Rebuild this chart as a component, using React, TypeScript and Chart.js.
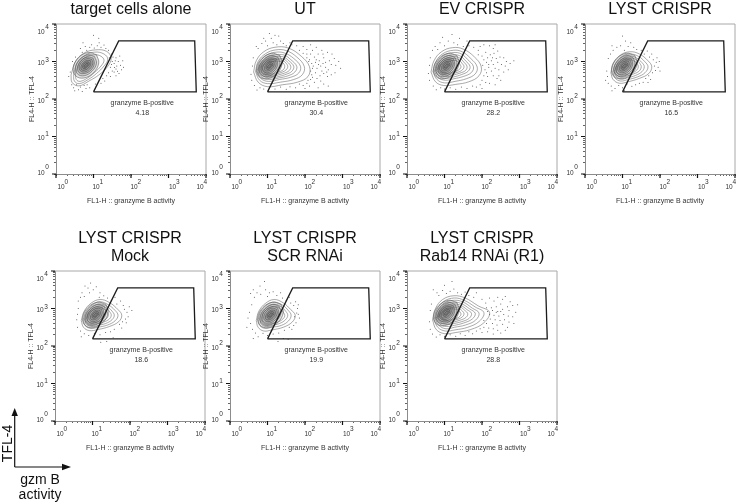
import React, { useEffect, useRef } from "react";
import { Chart, registerables } from "chart.js";

Chart.register(...registerables);

const FONT = '"Liberation Sans", Arial, sans-serif';

// Panel titles and the gated percentage of each panel
const titles: (string | string[])[] = [
  "target cells alone", "UT", "EV CRISPR", "LYST CRISPR",
  ["LYST CRISPR", "Mock"], ["LYST CRISPR", "SCR RNAi"], ["LYST CRISPR", "Rab14 RNAi (R1)"],
];
const gatePercent = ["4.18", "30.4", "28.2", "16.5", "18.6", "19.9", "28.8"];
const gateName = "granzyme B-positive";
const xAxisTitle = "FL1-H :: granzyme B activity";
const yAxisTitle = "FL4-H :: TFL-4";

// Log axis ticks
const tickValues = [
  1, 2, 3, 4, 5, 6, 7, 8, 9,
  10, 20, 30, 40, 50, 60, 70, 80, 90,
  100, 200, 300, 400, 500, 600, 700, 800, 900,
  1000, 2000, 3000, 4000, 5000, 6000, 7000, 8000, 9000, 10000,
];
const decades = [1, 10, 100, 1000, 10000];
const exponents = ["0", "1", "2", "3", "4"];

// Polygon gate, in channel values
const gateX = [10, 47, 5000, 5500, 10];
const gateY = [155, 3550, 3550, 155, 155];
const gateLabelAt = { x: 200, y: 78, y2: 43 };

const coreA = [
  [1.33,3.16,1.11,3.22,.85,3.08,.71,2.82,.77,2.60,.99,2.54,1.25,2.68,1.39,2.94],
  [1.28,3.11,1.10,3.16,.89,3.04,.77,2.83,.82,2.65,1.00,2.60,1.21,2.72,1.33,2.93],
  [1.24,3.07,1.09,3.10,.92,3.01,.83,2.84,.86,2.69,1.01,2.66,1.18,2.75,1.27,2.92],
  [1.21,3.03,1.09,3.06,.95,2.98,.87,2.84,.90,2.73,1.01,2.70,1.15,2.78,1.23,2.92],
  [1.17,3.00,1.08,3.01,.98,2.95,.92,2.85,.93,2.76,1.02,2.75,1.12,2.81,1.18,2.91],
  [1.13,2.96,1.08,2.97,1.00,2.93,.96,2.85,.97,2.80,1.02,2.79,1.09,2.84,1.14,2.91],
  [1.10,2.93,1.07,2.93,1.03,2.90,1.00,2.86,1.00,2.83,1.03,2.83,1.07,2.86,1.10,2.90],
];
const coreB = [
  [1.36,3.11,1.14,3.17,.88,3.03,.74,2.77,.80,2.55,1.02,2.49,1.28,2.63,1.42,2.89],
  [1.31,3.06,1.13,3.11,.92,2.99,.80,2.78,.85,2.60,1.03,2.55,1.24,2.67,1.36,2.88],
  [1.27,3.02,1.12,3.05,.95,2.96,.86,2.79,.89,2.64,1.04,2.61,1.21,2.70,1.30,2.87],
  [1.24,2.98,1.12,3.01,.98,2.93,.90,2.79,.93,2.68,1.04,2.65,1.18,2.73,1.26,2.87],
  [1.20,2.95,1.11,2.96,1.01,2.90,.95,2.80,.96,2.71,1.05,2.70,1.15,2.76,1.21,2.86],
  [1.16,2.91,1.11,2.92,1.03,2.88,.99,2.80,1.00,2.75,1.05,2.74,1.12,2.79,1.17,2.86],
  [1.13,2.88,1.10,2.88,1.06,2.85,1.03,2.81,1.03,2.78,1.06,2.78,1.10,2.81,1.13,2.85],
];
const coreC = [
  [1.08,3.18,.86,3.24,.60,3.10,.46,2.84,.52,2.62,.74,2.56,1.00,2.70,1.14,2.96],
  [1.03,3.13,.85,3.18,.64,3.06,.52,2.85,.57,2.67,.75,2.62,.96,2.74,1.08,2.95],
  [.99,3.09,.84,3.12,.67,3.03,.58,2.86,.61,2.71,.76,2.68,.93,2.77,1.02,2.94],
  [.96,3.05,.84,3.08,.70,3.00,.62,2.86,.65,2.75,.76,2.72,.90,2.80,.98,2.94],
  [.92,3.02,.83,3.03,.73,2.97,.67,2.87,.68,2.78,.77,2.77,.87,2.83,.93,2.93],
  [.88,2.98,.83,2.99,.75,2.95,.71,2.87,.72,2.82,.77,2.81,.84,2.86,.89,2.93],
  [.85,2.95,.82,2.95,.78,2.92,.75,2.88,.75,2.85,.78,2.85,.82,2.88,.85,2.92],
];

const contours1 = [
  [.40,2.64,.52,3.0,.74,3.22,1.05,3.31,1.35,3.27,1.47,3.09,1.38,2.87,1.14,2.64,.88,2.48,.61,2.35,.43,2.44],
  [.47,2.66,.57,2.97,.77,3.16,1.03,3.25,1.28,3.2,1.38,3.06,1.28,2.88,1.08,2.68,.86,2.52,.62,2.41,.49,2.48],
  [.52,2.68,.62,2.95,.80,3.12,1.02,3.18,1.2,3.14,1.28,3.03,1.2,2.88,1.02,2.7,.84,2.56,.64,2.47,.54,2.52],
  ...coreC,
];
const contours2 = [
  [.63,2.72,.70,3.02,.90,3.26,1.2,3.38,1.55,3.36,1.9,3.14,2.12,2.86,2.08,2.6,1.8,2.45,1.4,2.38,1.0,2.33,.75,2.45],
  [.68,2.73,.75,3.0,.95,3.21,1.22,3.31,1.5,3.29,1.78,3.12,1.98,2.87,1.93,2.65,1.7,2.52,1.35,2.45,1.0,2.41,.79,2.5],
  [.72,2.74,.8,2.99,.98,3.17,1.24,3.25,1.47,3.22,1.7,3.08,1.88,2.87,1.83,2.69,1.62,2.58,1.32,2.52,1.02,2.47,.82,2.55],
  [1.28,3.19,1.45,3.17,1.62,3.05,1.78,2.87,1.73,2.72,1.55,2.62,1.3,2.56,1.05,2.52,.85,2.58,.75,2.74,.84,2.98,1.02,3.14],
  [1.3,3.14,1.43,3.12,1.57,3.02,1.70,2.87,1.65,2.74,1.5,2.66,1.3,2.6,1.08,2.56,.88,2.62,.78,2.76,.86,2.97,1.05,3.11],
  [1.3,3.09,1.42,3.07,1.53,2.99,1.62,2.87,1.58,2.76,1.45,2.69,1.28,2.64,1.1,2.6,.9,2.65,.8,2.76,.88,2.96,1.08,3.07],
  [1.28,3.05,1.4,3.03,1.49,2.96,1.54,2.87,1.5,2.78,1.4,2.72,1.25,2.67,1.1,2.63,.93,2.67,.83,2.78,.9,2.94,1.1,3.04],
  [1.28,3.01,1.38,2.99,1.44,2.93,1.46,2.86,1.43,2.79,1.35,2.74,1.2,2.69,1.08,2.66,.95,2.7,.86,2.8,.93,2.93,1.12,3.0],
  ...coreA,
];
const contours3 = [
  [.64,2.72,.72,3.02,.92,3.26,1.22,3.37,1.5,3.33,1.8,3.12,1.98,2.86,1.92,2.62,1.65,2.46,1.3,2.39,.98,2.36,.76,2.46],
  [.69,2.73,.77,3.0,.96,3.21,1.24,3.3,1.47,3.26,1.7,3.08,1.87,2.86,1.82,2.67,1.58,2.54,1.28,2.47,1.0,2.43,.8,2.52],
  [.73,2.74,.81,2.99,1.0,3.17,1.25,3.24,1.45,3.2,1.62,3.05,1.77,2.87,1.72,2.71,1.5,2.6,1.25,2.54,1.02,2.5,.83,2.57],
  [.76,2.75,.85,2.98,1.03,3.13,1.27,3.18,1.43,3.14,1.56,3.02,1.68,2.87,1.63,2.74,1.45,2.65,1.25,2.59,1.05,2.55,.86,2.6],
  [.79,2.76,.88,2.96,1.06,3.09,1.27,3.13,1.41,3.09,1.51,2.99,1.6,2.87,1.56,2.76,1.41,2.69,1.24,2.64,1.08,2.6,.9,2.65],
  [.82,2.77,.9,2.94,1.09,3.05,1.27,3.08,1.39,3.04,1.46,2.96,1.52,2.87,1.48,2.78,1.37,2.72,1.22,2.68,1.08,2.64,.93,2.68],
  [.85,2.8,.93,2.93,1.11,3.01,1.27,3.03,1.36,3.0,1.41,2.93,1.44,2.86,1.41,2.8,1.33,2.75,1.2,2.71,1.07,2.68,.95,2.71],
  ...coreA,
];
const contours4 = [
  [.69,2.7,.76,2.96,.94,3.17,1.2,3.26,1.45,3.2,1.68,3.02,1.78,2.86,1.7,2.68,1.45,2.55,1.15,2.46,.92,2.42,.75,2.52],
  [.74,2.72,.82,2.95,.98,3.13,1.2,3.2,1.42,3.14,1.6,2.99,1.68,2.86,1.6,2.7,1.4,2.59,1.15,2.52,.95,2.48,.8,2.56],
  [.78,2.73,.86,2.94,1.02,3.09,1.2,3.15,1.38,3.09,1.52,2.97,1.58,2.86,1.52,2.73,1.35,2.63,1.15,2.57,.98,2.53,.83,2.6],
  [1.22,3.1,1.36,3.05,1.46,2.95,1.5,2.86,1.45,2.75,1.3,2.67,1.13,2.62,.98,2.58,.85,2.64,.8,2.74,.88,2.93,1.05,3.06],
  [1.22,3.05,1.33,3.0,1.4,2.93,1.42,2.85,1.38,2.77,1.27,2.7,1.12,2.66,.98,2.63,.88,2.67,.84,2.76,.91,2.92,1.07,3.02],
  ...coreA,
];
const contours5 = [
  [.7,2.68,.78,2.93,.96,3.14,1.2,3.24,1.45,3.16,1.68,2.97,1.78,2.82,1.7,2.65,1.45,2.52,1.15,2.44,.92,2.41,.76,2.5],
  [.75,2.69,.83,2.92,1.0,3.1,1.2,3.18,1.42,3.1,1.6,2.95,1.68,2.82,1.6,2.67,1.4,2.56,1.15,2.5,.96,2.47,.81,2.54],
  [.79,2.7,.87,2.91,1.03,3.06,1.2,3.12,1.38,3.06,1.52,2.93,1.58,2.82,1.52,2.7,1.35,2.6,1.15,2.55,.99,2.52,.84,2.58],
  [.82,2.71,.9,2.9,1.06,3.03,1.22,3.07,1.36,3.02,1.46,2.91,1.5,2.82,1.45,2.72,1.3,2.64,1.13,2.6,.99,2.57,.86,2.62],
  [.85,2.73,.92,2.89,1.08,2.99,1.22,3.02,1.33,2.97,1.4,2.89,1.42,2.81,1.38,2.74,1.27,2.67,1.12,2.64,.99,2.61,.89,2.65],
  ...coreB,
];
const contours6 = [
  [.7,2.68,.77,2.93,.95,3.14,1.18,3.24,1.42,3.15,1.62,2.97,1.74,2.82,1.66,2.64,1.42,2.5,1.12,2.43,.9,2.4,.75,2.5],
  [.75,2.7,.82,2.92,.99,3.1,1.18,3.17,1.4,3.09,1.56,2.94,1.63,2.82,1.56,2.67,1.37,2.55,1.12,2.5,.94,2.47,.8,2.54],
  [.79,2.71,.87,2.91,1.03,3.06,1.2,3.11,1.36,3.05,1.49,2.92,1.54,2.82,1.48,2.7,1.32,2.6,1.13,2.55,.97,2.52,.84,2.58],
  [.83,2.72,.9,2.9,1.06,3.02,1.2,3.06,1.33,3.0,1.42,2.9,1.46,2.81,1.41,2.72,1.28,2.64,1.11,2.6,.98,2.57,.87,2.63],
  ...coreB,
];
const contours7 = [
  [.68,2.7,.76,3.0,.95,3.24,1.25,3.34,1.55,3.28,1.9,3.07,2.2,2.9,2.05,2.62,1.7,2.44,1.3,2.36,1.0,2.33,.78,2.44],
  [.72,2.71,.8,2.98,.98,3.19,1.26,3.28,1.52,3.22,1.82,3.04,2.05,2.89,1.93,2.66,1.62,2.5,1.28,2.43,1.02,2.4,.82,2.5],
  [.75,2.72,.84,2.97,1.0,3.15,1.27,3.22,1.5,3.17,1.74,3.01,1.92,2.88,1.83,2.69,1.56,2.56,1.27,2.5,1.04,2.46,.85,2.55],
  [.78,2.73,.87,2.95,1.03,3.11,1.27,3.17,1.47,3.12,1.67,2.99,1.82,2.87,1.74,2.72,1.5,2.61,1.26,2.55,1.05,2.52,.87,2.59],
  [.8,2.75,.89,2.94,1.05,3.07,1.27,3.12,1.44,3.08,1.6,2.97,1.72,2.87,1.66,2.74,1.46,2.65,1.25,2.6,1.07,2.57,.9,2.63],
  [.83,2.76,.91,2.93,1.07,3.04,1.27,3.07,1.42,3.04,1.54,2.95,1.62,2.86,1.57,2.76,1.42,2.69,1.24,2.64,1.08,2.61,.92,2.66],
  [.85,2.78,.93,2.92,1.09,3.01,1.27,3.03,1.39,3.0,1.48,2.93,1.52,2.86,1.48,2.78,1.37,2.72,1.22,2.68,1.09,2.65,.94,2.7],
  [.88,2.8,.95,2.91,1.11,2.98,1.26,2.99,1.36,2.96,1.42,2.9,1.44,2.85,1.41,2.79,1.33,2.74,1.2,2.71,1.08,2.68,.96,2.72],
  ...coreA,
];

const events1 = [
  .65,3.35,.7,3.25,.78,3.4,.72,3.5,.82,3.3,.9,3.38,.95,3.45,1.02,3.36,1.1,3.42,1.15,3.5,1.2,3.38,1.28,3.44,1.33,3.35,1.0,3.7,1.14,3.62,
  1.42,3.1,1.48,3.2,1.5,3.0,1.55,2.95,1.6,3.1,1.62,2.88,1.66,3.0,1.7,3.15,1.72,2.9,1.75,2.78,1.6,2.8,1.55,2.72,1.68,2.68,1.78,3.02,1.8,2.85,
  1.45,2.85,1.5,2.75,1.4,2.7,1.35,2.62,1.25,2.55,1.3,2.48,1.45,2.6,1.6,2.62,1.2,2.42,1.52,3.12,1.4,3.3,1.58,3.02,1.64,2.74,1.48,2.92,1.56,2.84,
  .47,2.3,.5,2.22,.55,2.38,.6,2.25,.65,2.32,.7,2.2,.75,2.36,.8,2.28,.83,2.38,.42,2.38,.9,2.3,.38,2.72,.34,2.6,.44,3.0,.52,3.12,1.05,2.4,
];
const events2 = [
  1.05,3.75,1.1,3.62,1.2,3.7,.95,3.55,1.0,3.42,.85,3.48,1.15,3.5,1.25,3.45,1.35,3.55,1.3,3.68,1.42,3.48,1.5,3.42,1.6,3.5,.75,3.35,.7,3.4,.9,3.62,
  1.65,3.45,1.78,3.42,1.95,3.4,2.05,3.32,2.15,3.45,2.2,3.3,2.3,3.38,2.35,3.2,2.45,3.3,2.25,3.12,2.15,3.2,2.05,3.1,2.38,3.02,2.5,3.1,2.55,2.98,2.65,3.02,
  2.28,2.98,2.18,2.95,2.42,2.88,2.55,2.85,2.7,2.92,2.82,2.9,2.9,3.0,2.78,3.08,2.62,2.78,2.45,2.75,2.32,2.82,2.2,2.82,2.28,2.7,2.4,2.62,2.5,2.68,2.6,2.6,
  2.7,2.65,2.18,2.65,2.32,2.55,2.42,2.48,2.15,2.52,2.25,2.45,2.05,2.42,2.12,2.35,1.95,2.36,1.85,2.4,1.75,2.3,1.6,2.33,1.5,2.26,1.35,2.32,1.2,2.27,1.05,2.3,
  .9,2.27,.8,2.3,.72,2.24,.65,2.36,.58,2.5,.56,2.66,.6,2.88,.62,3.1,2.35,2.3,2.5,2.4,2.62,2.35,2.0,2.28,2.8,2.7,2.95,2.82,2.72,3.2,2.48,3.2,2.6,3.25,2.1,3.0,
  2.22,2.88,2.15,2.75,2.36,2.92,2.48,2.95,2.58,2.72,2.2,2.58,2.3,3.05,1.95,3.22,2.05,3.2,1.85,3.3,2.12,3.05,2.08,2.5,
];
const events3 = [
  .95,3.65,.88,3.5,1.0,3.42,1.1,3.55,1.2,3.72,1.25,3.5,1.35,3.45,1.4,3.62,1.5,3.4,1.6,3.55,.75,3.4,.68,3.3,.82,3.32,1.65,3.42,1.78,3.38,1.9,3.3,
  1.95,3.4,2.05,3.45,2.2,3.42,2.3,3.35,2.35,3.45,2.1,3.25,2.22,3.18,2.32,3.22,2.42,3.28,2.15,3.1,2.05,3.05,2.25,3.02,2.38,3.08,2.48,3.12,2.58,3.1,2.65,3.0,
  2.12,2.98,2.3,2.92,2.42,2.98,2.52,2.92,2.62,2.88,2.75,2.95,2.85,3.02,2.35,2.82,2.18,2.85,2.08,2.78,2.25,2.75,2.45,2.78,2.58,2.72,2.05,2.62,2.15,2.6,2.3,2.62,
  2.4,2.55,2.0,2.5,2.1,2.44,2.2,2.42,2.35,2.38,1.95,2.38,1.85,2.32,1.75,2.35,1.6,2.28,1.45,2.32,1.3,2.26,1.15,2.3,1.0,2.27,.9,2.3,.78,2.25,.7,2.35,
  .6,2.5,.57,2.68,.6,2.9,.62,3.1,2.0,2.28,2.5,2.5,2.7,2.78,2.18,2.92,2.28,3.1,2.12,2.7,2.02,2.9,1.9,3.18,2.0,3.15,2.45,2.62,
];
const events4 = [
  1.0,3.68,1.08,3.55,.95,3.42,.85,3.38,1.15,3.4,1.22,3.5,1.3,3.38,1.05,3.3,.75,3.3,.68,3.2,.62,3.08,.72,3.42,1.38,3.32,1.5,3.3,1.58,3.2,1.66,3.28,
  1.72,3.12,1.78,3.2,1.82,3.05,1.9,2.98,1.85,2.88,1.95,2.85,1.88,2.76,1.8,2.7,1.7,2.62,1.62,2.55,1.75,2.52,1.55,2.45,1.45,2.42,1.35,2.38,1.25,2.34,1.12,2.4,
  1.0,2.3,.9,2.36,.8,2.28,.7,2.35,.62,2.42,.55,2.5,.6,2.6,.58,2.75,1.98,3.0,2.0,2.75,1.68,2.44,1.92,3.1,1.05,2.22,.72,2.22,
];
const events5 = [
  .95,3.68,.88,3.55,.8,3.6,.92,3.42,1.02,3.5,1.1,3.58,.72,3.42,.68,3.3,.78,3.32,.62,3.2,1.2,3.42,1.3,3.34,1.18,3.3,1.4,3.28,1.5,3.22,1.6,3.3,
  1.65,3.12,1.75,3.2,1.82,3.08,1.85,2.98,1.92,2.9,1.95,2.78,1.88,2.72,1.8,2.65,1.72,2.58,1.78,2.48,1.58,2.45,1.48,2.38,1.35,2.36,1.2,2.3,1.05,2.34,.9,2.28,
  .78,2.33,.68,2.4,.6,2.5,.58,2.7,.6,2.85,1.38,2.12,1.55,2.22,1.22,2.1,2.05,2.95,1.98,3.05,.62,3.0,.7,2.25,1.9,2.62,
];
const events6 = [
  .92,3.72,.8,3.6,.62,3.5,.55,3.4,.72,3.42,.65,3.3,.82,3.38,.95,3.5,1.05,3.42,1.0,3.32,1.15,3.45,1.25,3.35,1.35,3.42,1.4,3.28,1.5,3.22,1.58,3.3,
  1.62,3.15,1.7,3.08,1.75,3.18,1.8,3.0,1.78,2.88,1.72,2.78,1.85,2.75,1.76,2.62,1.7,2.55,1.58,2.5,1.65,2.45,1.45,2.42,1.3,2.35,1.15,2.32,1.0,2.28,.88,2.34,
  .75,2.25,.68,2.35,.6,2.45,.55,2.6,.48,2.75,.52,2.9,.58,3.1,.45,2.5,1.42,2.2,1.55,2.18,1.28,2.12,.62,2.2,1.82,2.85,1.82,3.1,
];
const events7 = [
  1.2,3.72,1.0,3.62,.95,3.48,.8,3.42,.7,3.5,.85,3.35,1.05,3.4,1.15,3.46,1.25,3.52,1.35,3.42,1.45,3.38,1.55,3.44,1.65,3.35,1.78,3.3,1.85,3.42,2.0,3.25,
  2.1,3.15,2.2,3.28,2.32,3.2,2.42,3.3,2.55,3.25,2.62,3.32,2.75,3.18,2.68,3.05,2.5,3.12,2.38,3.05,2.25,3.02,2.12,3.02,2.28,2.95,2.42,2.92,2.55,2.98,2.72,2.95,
  2.82,3.08,2.95,3.1,2.9,2.9,2.2,2.85,2.32,2.82,2.45,2.8,2.58,2.84,2.7,2.8,2.82,2.78,2.22,2.72,2.35,2.7,2.48,2.68,2.6,2.7,2.72,2.64,2.05,2.68,2.12,2.6,
  2.28,2.6,2.4,2.56,2.55,2.58,2.68,2.5,2.05,2.5,2.18,2.48,2.3,2.46,2.42,2.42,1.95,2.46,1.85,2.4,2.0,2.36,2.15,2.38,2.3,2.32,1.75,2.33,1.65,2.38,1.55,2.28,
  1.42,2.33,1.3,2.26,1.15,2.3,1.0,2.26,.88,2.3,.78,2.24,.68,2.32,.62,2.45,.6,2.65,.62,2.95,.65,3.12,2.5,2.35,2.85,2.6,2.38,2.9,2.5,2.92,2.15,2.92,2.62,2.42,
];

const contoursByPanel = [contours1, contours2, contours3, contours4, contours5, contours6, contours7];
const eventsByPanel = [events1, events2, events3, events4, events5, events6, events7];
const CORE_COUNT = coreA.length;

// Layout of the seven panels: left and top of each plot frame on the page
const panelLeft = [56, 230, 407, 585, 55, 230, 407];
const panelTop = [24, 24, 24, 24, 271, 271, 271];
const PLOT = 150, AXIS_W = 36, AXIS_H = 34;

// Tick label nudges (the reference packs its labels inward)
const xLabelNudge = [5, 2.5, 3, 4, -6];
const yLabelNudge = [[-1, -6.4], [1.6, -2.4], [2.4, -2.6], [2, -1], [8.3, 3.3]];

function toPoints(flat: number[]) {
  const out: { x: number; y: number }[] = [];
  for (let i = 0; i + 1 < flat.length; i += 2) out.push({ x: 10 ** flat[i], y: 10 ** flat[i + 1] });
  return out;
}

const panelPlugin = (percent: string) => ({
  id: "panelText",
  beforeDatasetsDraw(chart: any) {
    const { ctx, chartArea: a } = chart;
    ctx.save();
    ctx.strokeStyle = "#a8a8a8";
    ctx.lineWidth = 1;
    ctx.beginPath();
    ctx.moveTo(a.left, a.top);
    ctx.lineTo(a.right, a.top);
    ctx.lineTo(a.right, a.bottom);
    ctx.stroke();
    ctx.restore();
  },
  afterDraw(chart: any) {
    const { ctx, chartArea: a, scales } = chart;
    const { x, y } = scales;
    ctx.save();
    // longer marks on the decades
    ctx.strokeStyle = "#111";
    ctx.lineWidth = 1.2;
    ctx.beginPath();
    decades.forEach((v) => {
      const px = x.getPixelForValue(v);
      const py = y.getPixelForValue(v);
      ctx.moveTo(px, a.bottom);
      ctx.lineTo(px, a.bottom + 4);
      ctx.moveTo(a.left, py);
      ctx.lineTo(a.left - 4, py);
    });
    ctx.stroke();
    // decade labels
    ctx.fillStyle = "#333";
    ctx.font = `6.5px ${FONT}`;
    ctx.textAlign = "center";
    ctx.textBaseline = "middle";
    decades.forEach((v, i) => {
      const px = x.getPixelForValue(v) + xLabelNudge[i];
      ctx.fillText("10", px, a.bottom + 13);
      ctx.fillText(exponents[i], px + 5.3, a.bottom + 8);
      const py = y.getPixelForValue(v);
      ctx.fillText("10", a.left - 15, py + yLabelNudge[i][0]);
      ctx.fillText(exponents[i], a.left - 9, py + yLabelNudge[i][1]);
    });
    // gate label
    ctx.font = `7px ${FONT}`;
    const gx = x.getPixelForValue(gateLabelAt.x);
    ctx.fillText(gateName, gx, y.getPixelForValue(gateLabelAt.y));
    ctx.fillText(percent, gx, y.getPixelForValue(gateLabelAt.y2));
    ctx.restore();
  },
});

function Panel({ index }: { index: number }) {
  const ref = useRef<HTMLCanvasElement>(null);
  const canvasTop = index < 4 ? 0 : 229;
  const top = panelTop[index];
  const width = AXIS_W * 2 + PLOT;
  const height = top - canvasTop + PLOT + AXIS_H;
  const lineCount = index < 4 ? 1 : 2;

  useEffect(() => {
    const logScale = (title: string, fit: (s: any) => void, padding: any) => ({
      type: "logarithmic" as const,
      min: 1,
      max: 10000,
      afterBuildTicks(s: any) {
        s.ticks = tickValues.map((v) => ({ value: v, major: decades.includes(v) }));
      },
      afterFit: fit,
      ticks: { display: false, autoSkip: false },
      grid: {
        display: true,
        drawOnChartArea: false,
        drawTicks: true,
        tickLength: 2,
        tickColor: "#222",
        tickWidth: 0.7,
      },
      border: { display: true, color: "#8c8c8c", width: 1 },
      title: { display: true, text: title, color: "#333", font: { family: FONT, size: 7, lineHeight: 1.2 }, padding },
    });

    const contours = contoursByPanel[index];
    const chart = new Chart(ref.current!, {
      type: "scatter",
      data: {
        datasets: [
          {
            label: "gate",
            data: gateX.map((x, i) => ({ x, y: gateY[i] })),
            showLine: true,
            pointRadius: 0,
            borderColor: "#1c1c1c",
            borderWidth: 1.3,
            tension: 0,
          },
          ...contours.map((c, i) => {
            const pts = toPoints(c);
            const isCore = i >= contours.length - CORE_COUNT;
            return {
              label: `contour ${i + 1}`,
              data: [...pts, pts[0]],
              showLine: true,
              pointRadius: 0,
              borderColor: isCore ? "#444" : "#555",
              borderWidth: 0.5,
              tension: 0.4,
              fill: isCore ? "shape" : false,
              backgroundColor: "rgba(50,50,50,0.13)",
            };
          }),
          {
            label: "events",
            data: toPoints(eventsByPanel[index]),
            showLine: false,
            pointRadius: 0.5,
            pointBorderWidth: 0,
            pointBackgroundColor: "#444",
          },
        ],
      },
      options: {
        animation: false,
        responsive: false,
        layout: { padding: 0 },
        plugins: {
          legend: { display: false },
          tooltip: { enabled: false },
          title: {
            display: true,
            text: titles[index] as any,
            color: "#111",
            font: { family: FONT, size: 16, weight: "normal", lineHeight: 1.15 },
            padding: { top: 0, bottom: top - canvasTop - lineCount * 18.4 },
          },
        },
        scales: {
          x: logScale(xAxisTitle, (s) => { s.height = AXIS_H; }, { top: 0, bottom: 3.2 }),
          y: logScale(yAxisTitle, (s) => { s.width = AXIS_W; }, { top: 8.2, bottom: 0 }),
          // empty right-hand axis: keeps the title centred over the plot frame
          spacer: {
            type: "linear",
            position: "right",
            grid: { display: false },
            border: { display: false },
            ticks: { display: false },
            afterFit: (s: any) => { s.width = AXIS_W; },
          },
        },
      } as any,
      plugins: [panelPlugin(gatePercent[index])],
    });
    return () => chart.destroy();
  }, [index]);

  return (
    <canvas
      ref={ref}
      width={width}
      height={height}
      style={{ position: "absolute", left: panelLeft[index] - AXIS_W, top: canvasTop, width, height }}
    />
  );
}

export default function App() {
  const ink = "#111";
  return (
    <div style={{ position: "fixed", left: 0, top: 0, width: 738, height: 504, overflow: "hidden", background: "#fff" }}>
      {titles.map((_, i) => <Panel key={i} index={i} />)}
      <svg width={90} height={104} viewBox="0 400 90 104" style={{ position: "absolute", left: 0, top: 400 }}>
        <line x1={14.7} y1={467} x2={14.7} y2={414} stroke={ink} strokeWidth={1.2} />
        <polygon points="14.7,408 11.5,416 17.9,416" fill={ink} />
        <line x1={14.7} y1={467} x2={64} y2={467} stroke={ink} strokeWidth={1.2} />
        <polygon points="71,467 62,463.8 62,470.2" fill={ink} />
        <text x={7} y={443.5} transform="rotate(-90 7 443.5)" textAnchor="middle" dominantBaseline="central" fontFamily={FONT} fontSize={14} fill={ink}>TFL-4</text>
        <text x={40} y={479} textAnchor="middle" dominantBaseline="central" fontFamily={FONT} fontSize={14} fill={ink}>gzm B</text>
        <text x={40} y={494} textAnchor="middle" dominantBaseline="central" fontFamily={FONT} fontSize={14} fill={ink}>activity</text>
      </svg>
    </div>
  );
}
